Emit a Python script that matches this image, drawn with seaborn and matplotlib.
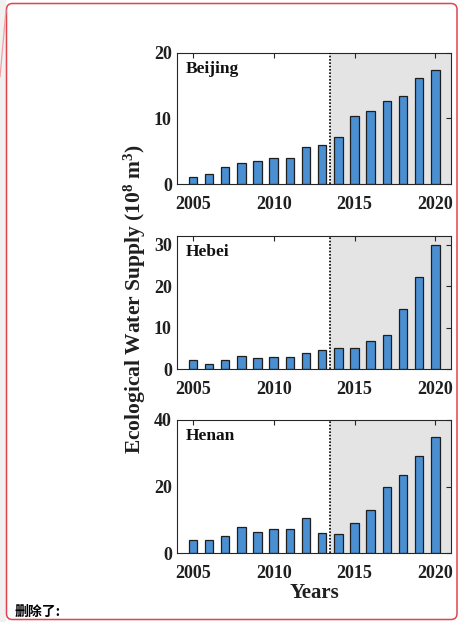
import numpy as np
import pandas as pd
import matplotlib
matplotlib.use("Agg")
import matplotlib.pyplot as plt
from matplotlib.patches import FancyBboxPatch, Rectangle
import seaborn as sns

# Annual ecological water supply (10^8 m^3) by province
years = list(range(2005, 2021))
beijing = [1.1, 1.6, 2.7, 3.2, 3.6, 4.0, 4.0, 5.7, 5.9, 7.2, 10.4, 11.1, 12.7, 13.4, 16.1, 17.3]
hebei = [2.2, 1.1, 2.1, 3.2, 2.7, 3.0, 3.0, 3.9, 4.7, 5.1, 5.1, 6.7, 8.2, 14.6, 22.2, 30.0]
henan = [3.9, 4.0, 5.3, 7.8, 6.4, 7.3, 7.3, 10.6, 6.2, 5.8, 9.1, 13.1, 19.8, 23.5, 29.1, 34.8]

provinces = ["Beijing", "Hebei", "Henan"]
series = [beijing, hebei, henan]
y_limits = [(0, 20), (0, 32.2), (0, 40)]
y_ticks = [[0, 10, 20], [0, 10, 20, 30], [0, 20, 40]]
x_ticks = [2005, 2010, 2015, 2020]
split_year = 2013.5

sns.set_theme(style="white")
plt.rcParams["font.family"] = ["Liberation Serif", "DejaVu Sans"]
plt.rcParams["font.weight"] = "bold"
plt.rcParams["mathtext.fontset"] = "custom"
plt.rcParams["mathtext.rm"] = "Liberation Serif:bold"
plt.rcParams["mathtext.bf"] = "Liberation Serif:bold"
plt.rcParams["mathtext.it"] = "Liberation Serif:bold"

W, H = 458, 622
fig = plt.figure(figsize=(W / 100, H / 100), dpi=100)
fig.patch.set_facecolor("white")

bar_color = "#4a8fd2"
edge_color = "#1e1e1e"
shade_color = "#e4e4e4"
text_color = "#1f1f1f"

# axes boxes in pixels: (left, top, right, bottom)
boxes = [(176.7, 52.7, 451.5, 184.3),
         (176.7, 235.7, 451.5, 369.0),
         (176.7, 420.0, 451.5, 553.3)]

for (l, t, r, b), name, vals, ylim, yt in zip(boxes, provinces, series, y_limits, y_ticks):
    ax = fig.add_axes([l / W, 1 - b / H, (r - l) / W, (b - t) / H])
    df = pd.DataFrame({"Year": years, "Supply": vals})
    ax.axvspan(split_year, 2021, color=shade_color, zorder=0, lw=0)
    sns.barplot(data=df, x="Year", y="Supply", native_scale=True, width=0.52,
                color=bar_color, edgecolor=edge_color, linewidth=0.9,
                saturation=1, ax=ax, zorder=2)
    ax.axvline(split_year, color="black", linestyle=(0, (1, 1)), lw=1.2, zorder=3)
    ax.set_xlim(2004, 2021)
    ax.set_ylim(*ylim)
    ax.set_xticks(x_ticks)
    ax.set_xticklabels([str(v) for v in x_ticks])
    ax.set_yticks(yt)
    ax.set_xlabel("")
    ax.set_ylabel("")
    ax.tick_params(axis="both", direction="in", length=3.5, width=0.8,
                   top=True, right=True, labelsize=13, colors="#262626")
    ax.tick_params(axis="x", pad=8.5)
    ax.tick_params(axis="y", pad=3.5)
    for lab in ax.get_xticklabels() + ax.get_yticklabels():
        lab.set_fontweight("bold")
        lab.set_color(text_color)
    for sp in ax.spines.values():
        sp.set_visible(True)
        sp.set_color("#262626")
        sp.set_linewidth(0.8)
    ax.set_axisbelow(False)
    ax.text(0.034, 0.94, name, transform=ax.transAxes, ha="left", va="top",
            fontsize=12.5, fontweight="bold", color="#111111")

fig.text(135 / W, 1 - 299 / H, r"Ecological Water Supply (10$^{8}$ m$^{3}$)",
         rotation=90, ha="center", va="center", fontsize=15.5, fontweight="bold",
         color=text_color)
fig.text(314 / W, 1 - 593 / H, "Years", ha="center", va="center",
         fontsize=15, fontweight="bold", color=text_color)

# overlay in pixel coordinates for the comment frame
ov = fig.add_axes([0, 0, 1, 1], zorder=10)
ov.set_xlim(0, W)
ov.set_ylim(H, 0)
ov.axis("off")
ov.patch.set_alpha(0)
ov.add_patch(Rectangle((452.5, 0), W - 452.5, H, facecolor="white", lw=0))
ov.add_patch(Rectangle((0, 0), 5.5, H, facecolor="#f1f1f1", lw=0))
ov.add_patch(FancyBboxPatch((6.5, 3.5), 450.5, 616, boxstyle="round,pad=0,rounding_size=6",
                            facecolor="none", edgecolor="#e0454d", lw=1.1))
ov.plot([6.0, 0.0], [10, 77], color="#f0a0a5", lw=0.9)
ov.text(15, 605, "删除了:", ha="left", va="top", fontsize=10, fontweight="bold",
        family=["Noto Sans CJK SC", "DejaVu Sans"], color="black")

fig.savefig("out.png", dpi=100)
